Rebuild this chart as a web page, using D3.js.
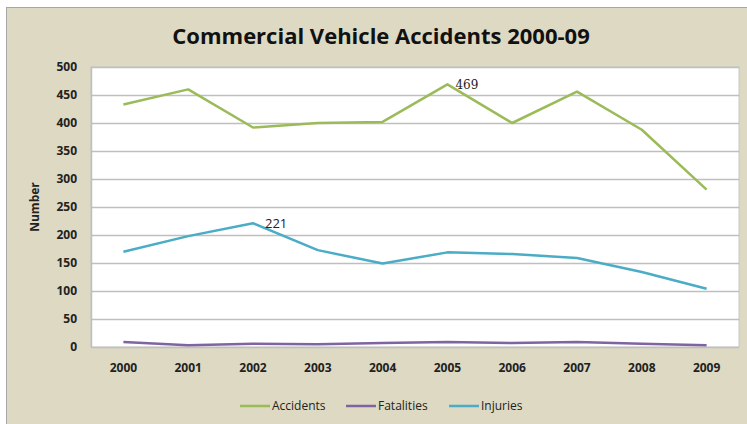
<!DOCTYPE html>
<html>
<head>
<meta charset="utf-8">
<script src="https://cdn.jsdelivr.net/npm/d3@7"></script>
<style>
  body { margin: 0; background: #fff; }
  text { font-family: "Open Sans", "Liberation Sans", sans-serif; }
</style>
</head>
<body>
<div id="chart"></div>
<script>
var years = ["2000", "2001", "2002", "2003", "2004", "2005", "2006", "2007", "2008", "2009"]
var accidents = [433, 460, 392, 400, 402, 469, 400, 456, 388, 281]
var fatalities = [9, 3, 6, 5, 7, 9, 7, 9, 6, 3]
var injuries = [170, 198, 221, 173, 149, 169, 166, 159, 134, 104]
var yTicks = [0, 50, 100, 150, 200, 250, 300, 350, 400, 450, 500]

var series = [
  {name: "Accidents", values: accidents, color: "#9bbb59"},
  {name: "Fatalities", values: fatalities, color: "#8064a2"},
  {name: "Injuries", values: injuries, color: "#4bacc6"}
]

var W = 747, H = 424
var svg = d3.select("#chart").append("svg").attr("width", W).attr("height", H)

// frame
svg.append("rect").attr("x", 6.5).attr("y", 7.5).attr("width", W).attr("height", H)
    .attr("fill", "#ddd9c3").attr("stroke", "#a6a6a6")

var pLeft = 91, pRight = 739, pTop = 67, pBottom = 347

var x = d3.scaleBand().domain(years).range([pLeft, pRight])
var y = d3.scaleLinear().domain([0, 500]).range([pBottom, pTop])

svg.append("rect").attr("x", pLeft).attr("y", pTop).attr("width", pRight - pLeft).attr("height", pBottom - pTop)
    .attr("fill", "#fff").attr("stroke", "#c8c8c8")

svg.append("g").selectAll("line").data(yTicks).join("line")
    .attr("x1", pLeft).attr("x2", pRight)
    .attr("y1", function(d) { return Math.round(y(d)) + 0.5 })
    .attr("y2", function(d) { return Math.round(y(d)) + 0.5 })
    .attr("stroke", "#bfbfbf").attr("stroke-width", 1.5)

svg.append("line").attr("x1", pLeft + 0.5).attr("x2", pLeft + 0.5).attr("y1", pTop).attr("y2", pBottom)
    .attr("stroke", "#bfbfbf").attr("stroke-width", 1.5)

var yAxis = svg.append("g").attr("transform", "translate(" + (pLeft - 14) + ",0)")
    .call(d3.axisLeft(y).tickValues(yTicks).tickSize(0).tickPadding(0))
yAxis.select(".domain").remove()
yAxis.selectAll("text").attr("font-size", 12).attr("font-weight", "bold").attr("fill", "#222")
    .style("font-family", "'Open Sans', sans-serif")

var xAxis = svg.append("g").attr("transform", "translate(0," + (pBottom + 16) + ")")
    .call(d3.axisBottom(x).tickSize(0).tickPadding(0))
xAxis.select(".domain").remove()
xAxis.selectAll("text").attr("font-size", 12).attr("font-weight", "bold").attr("fill", "#222")
    .style("font-family", "'Open Sans', sans-serif")

var line = d3.line()
    .x(function(d, i) { return x(years[i]) + x.bandwidth() / 2 })
    .y(function(d) { return y(d) })

svg.append("g").selectAll("path").data(series).join("path")
    .attr("d", function(s) { return line(s.values) })
    .attr("fill", "none")
    .attr("stroke", function(s) { return s.color })
    .attr("stroke-width", 2.5)
    .attr("stroke-linejoin", "round")

// value labels
svg.append("text")
    .attr("x", x("2005") + x.bandwidth() / 2 + 8).attr("y", y(469) + 5)
    .style("font-family", "'DejaVu Serif', serif").attr("font-size", 12).attr("fill", "#222")
    .text("469")
svg.append("text")
    .attr("x", x("2002") + x.bandwidth() / 2 + 12).attr("y", y(221) + 5)
    .attr("font-size", 13).attr("fill", "#222")
    .text("221")

// titles
svg.append("text").attr("x", 381).attr("y", 44).attr("text-anchor", "middle")
    .attr("font-size", 22).attr("font-weight", "bold").attr("fill", "#111")
    .text("Commercial Vehicle Accidents 2000-09")

svg.append("text").attr("transform", "translate(39," + ((pTop + pBottom) / 2) + ") rotate(-90)")
    .attr("text-anchor", "middle").attr("font-size", 12).attr("font-weight", "bold").attr("fill", "#222")
    .text("Number")

// legend
var legendX = [240, 346, 449]
var legend = svg.append("g").selectAll("g").data(series).join("g")
    .attr("transform", function(s, i) { return "translate(" + legendX[i] + ",406)" })
legend.append("line").attr("x1", 0).attr("x2", 30).attr("y1", 0).attr("y2", 0)
    .attr("stroke", function(s) { return s.color }).attr("stroke-width", 2.5)
legend.append("text").attr("x", 32).attr("y", 4).attr("font-size", 12).attr("fill", "#222")
    .text(function(s) { return s.name })
</script>
</body>
</html>
